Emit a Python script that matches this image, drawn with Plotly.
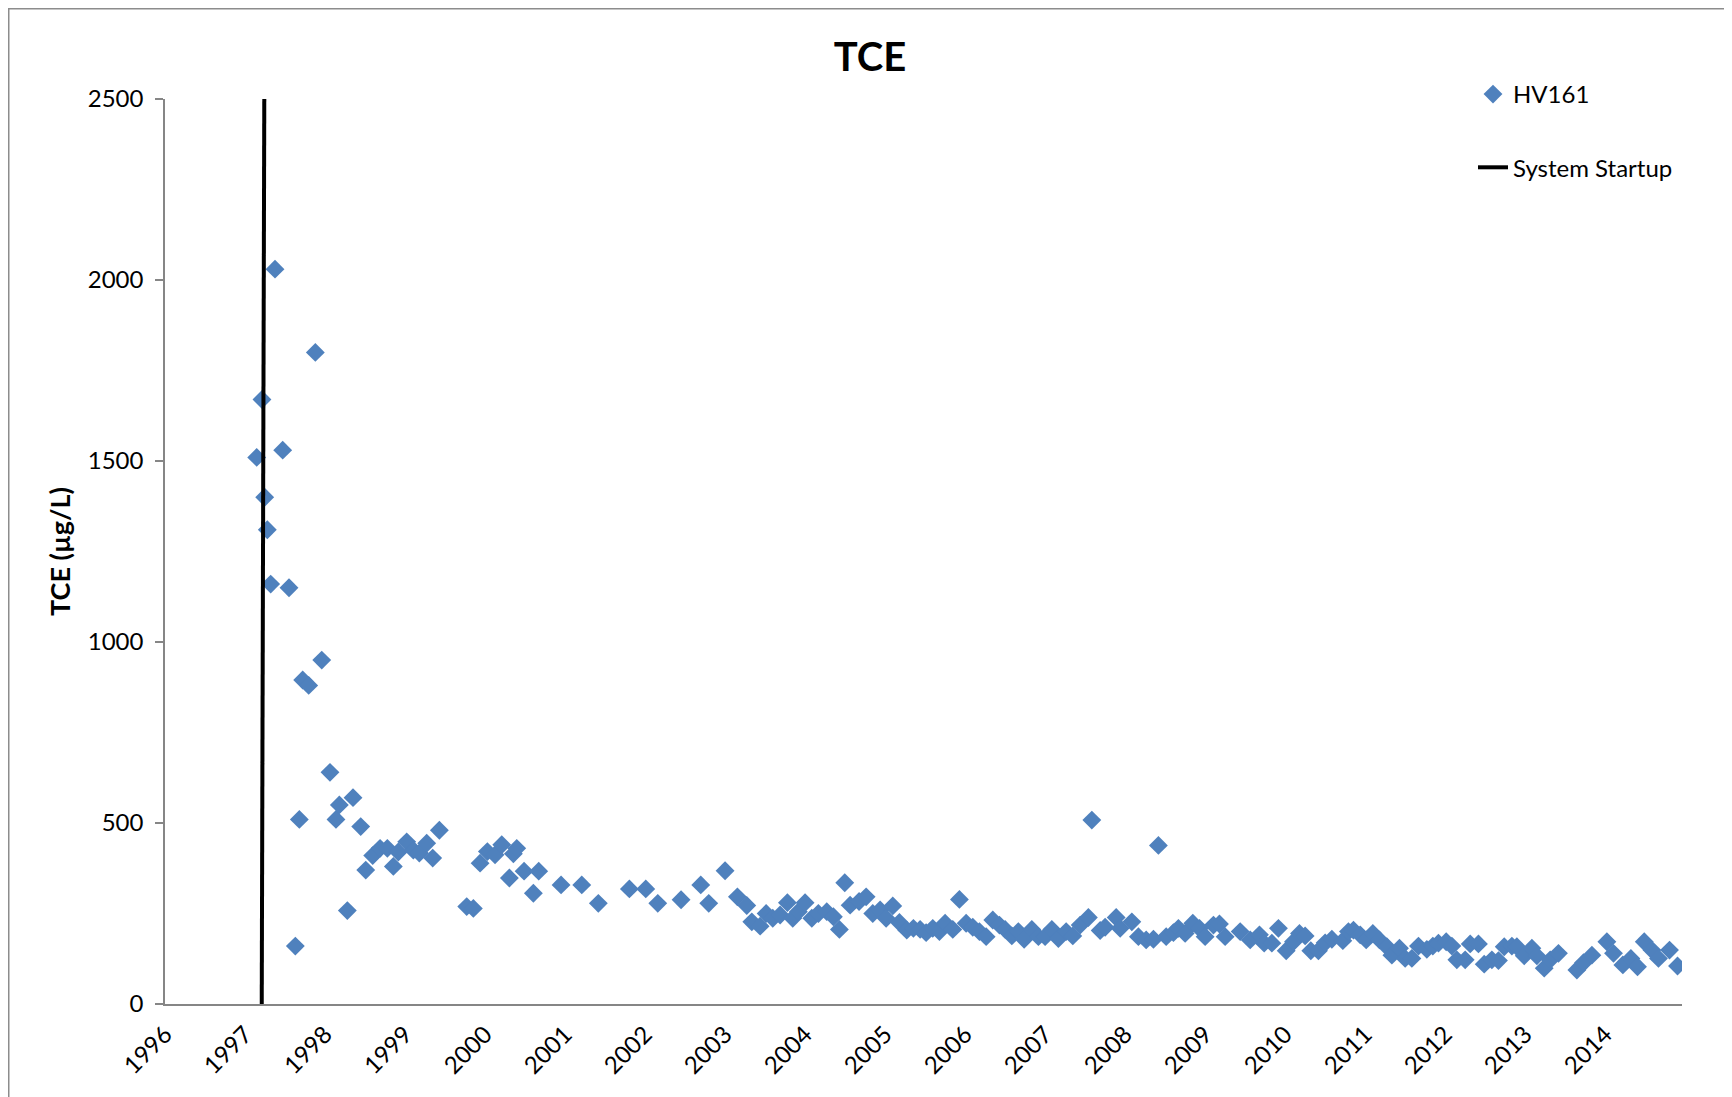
import plotly.graph_objects as go

# ---- data ----
years = [
    1997.146, 1997.212, 1997.246, 1997.279, 1997.321, 1997.375, 1997.471, 1997.550,
    1997.629, 1997.679, 1997.721, 1997.796, 1997.879, 1997.959, 1998.062, 1998.137,
    1998.179, 1998.279, 1998.350, 1998.446, 1998.509, 1998.596, 1998.688, 1998.779,
    1998.854, 1998.916, 1999.021, 1999.104, 1999.179, 1999.271, 1999.346, 1999.429,
    1999.771, 1999.854, 1999.938, 2000.029, 2000.125, 2000.209, 2000.304, 2000.354,
    2000.396, 2000.488, 2000.604, 2000.671, 2000.950, 2001.209, 2001.416, 2001.804,
    2002.009, 2002.159, 2002.450, 2002.696, 2002.796, 2003.000, 2003.154, 2003.271,
    2003.334, 2003.438, 2003.513, 2003.596, 2003.688, 2003.779, 2003.846, 2003.916,
    2004.000, 2004.084, 2004.166, 2004.271, 2004.354, 2004.429, 2004.496, 2004.563,
    2004.675, 2004.763, 2004.846, 2004.938, 2005.013, 2005.096, 2005.179, 2005.271,
    2005.354, 2005.438, 2005.513, 2005.596, 2005.679, 2005.750, 2005.846, 2005.929,
    2006.013, 2006.096, 2006.179, 2006.263, 2006.346, 2006.429, 2006.500, 2006.584,
    2006.666, 2006.738, 2006.834, 2006.916, 2007.000, 2007.084, 2007.166, 2007.263,
    2007.346, 2007.438, 2007.541, 2007.584, 2007.688, 2007.750, 2007.888, 2007.938,
    2008.084, 2008.166, 2008.263, 2008.354, 2008.416, 2008.513, 2008.604, 2008.666,
    2008.750, 2008.846, 2008.929, 2009.000, 2009.104, 2009.179, 2009.250, 2009.438,
    2009.563, 2009.679, 2009.738, 2009.834, 2009.916, 2010.013, 2010.104, 2010.179,
    2010.250, 2010.321, 2010.416, 2010.500, 2010.584, 2010.721, 2010.791, 2010.854,
    2010.938, 2011.013, 2011.096, 2011.179, 2011.271, 2011.334, 2011.429, 2011.500,
    2011.584, 2011.666, 2011.771, 2011.846, 2011.916, 2012.013, 2012.084, 2012.146,
    2012.250, 2012.313, 2012.416, 2012.488, 2012.584, 2012.666, 2012.738, 2012.834,
    2012.896, 2012.988, 2013.084, 2013.146, 2013.238, 2013.313, 2013.416, 2013.646,
    2013.729, 2013.834, 2014.021, 2014.104, 2014.221, 2014.321, 2014.404, 2014.488,
    2014.584, 2014.666, 2014.804, 2014.904,
]
tce = [
    1510, 1670, 1400, 1310, 1160, 2030, 1530, 1150,
    160, 510, 895, 880, 1800, 950, 640, 510,
    550, 258, 570, 490, 370, 410, 430, 430,
    380, 420, 448, 425, 417, 444, 403, 480,
    269, 264, 389, 421, 412, 440, 348, 415,
    430, 367, 306, 367, 329, 329, 278, 318,
    318, 278, 288, 329, 278, 368, 296, 272,
    227, 215, 250, 237, 246, 280, 237, 255,
    280, 237, 250, 255, 241, 206, 335, 273,
    283, 296, 250, 260, 237, 271, 225, 204,
    209, 206, 197, 209, 200, 223, 206, 289,
    223, 212, 200, 186, 232, 218, 206, 188,
    200, 179, 206, 186, 186, 206, 181, 200,
    188, 218, 239, 508, 203, 212, 239, 209,
    227, 186, 177, 179, 438, 186, 197, 209,
    195, 223, 209, 186, 218, 221, 186, 200,
    177, 191, 168, 168, 209, 147, 172, 195,
    188, 147, 147, 169, 179, 175, 200, 204,
    191, 177, 195, 177, 158, 135, 154, 126,
    126, 160, 151, 160, 168, 172, 160, 122,
    122, 166, 166, 110, 122, 120, 158, 160,
    158, 133, 154, 133, 99, 122, 140, 94,
    114, 135, 172, 140, 108, 126, 103, 172,
    149, 126, 149, 105,
]

startup_x = [1997.209, 1997.241]
startup_y = [0, 2500]

year_ticks = list(range(1996, 2015))
year_labels = [str(y) for y in year_ticks]
y_ticks = [0, 500, 1000, 1500, 2000, 2500]

FONT = "Lato, 'Open Sans', sans-serif"
BLUE = "#4F81BD"
AXIS = "#868686"

fig = go.Figure()
fig.add_trace(go.Scatter(
    x=years, y=tce, mode="markers", name="HV161", legendgroup="a",
    marker=dict(symbol="diamond", size=14.5, color=BLUE, line=dict(width=0)),
))
fig.add_trace(go.Scatter(
    x=startup_x, y=startup_y, mode="lines", name="System Startup", legendgroup="b",
    line=dict(color="black", width=4),
))

W, H = 1732, 1097
L, R, T, B = 157, 58, 91, 101
pw = W - L - R
ph = H - T - B

fig.update_layout(
    width=W, height=H,
    margin=dict(l=L, r=R, t=T, b=B),
    paper_bgcolor="white", plot_bgcolor="white",
    font=dict(family=FONT, size=23, color="black"),
    title=dict(text="<b>TCE</b>", x=862 / W, xanchor="center",
               y=1 - 49 / H, yanchor="middle",
               font=dict(family=FONT, size=40, color="black")),
    xaxis=dict(
        range=[1996, 2014.96], tickmode="array", tickvals=year_ticks, ticktext=year_labels,
        tickangle=-45, showgrid=False, zeroline=False, showline=True,
        linecolor=AXIS, linewidth=1.5, ticks="", tickfont=dict(size=24),
        ticklabelstandoff=5,
    ),
    yaxis=dict(
        range=[0, 2500], tickmode="array", tickvals=y_ticks,
        showgrid=False, zeroline=False, showline=True, linecolor=AXIS, linewidth=1.5,
        ticks="outside", ticklen=8, tickcolor=AXIS, tickwidth=1.5,
        tickfont=dict(size=24), ticklabelstandoff=7,
        title=dict(text="<b>TCE (µg/L)</b>", font=dict(size=27), standoff=9),
    ),
    legend=dict(
        x=(1465 - L) / pw, y=(H - B - 64) / ph, xanchor="left", yanchor="top",
        bgcolor="rgba(0,0,0,0)", font=dict(size=24), tracegroupgap=39,
        traceorder="grouped",
    ),
    showlegend=True,
)

# outer chart border
fig.add_shape(type="rect", xref="paper", yref="paper",
              x0=(0.75 - L) / pw, x1=(1721 - L) / pw,
              y0=-(B + 20) / ph, y1=(H - B - 0.75) / ph,
              line=dict(color="#8C8C8C", width=1.5), fillcolor="rgba(0,0,0,0)")

fig.write_html("out.html")
